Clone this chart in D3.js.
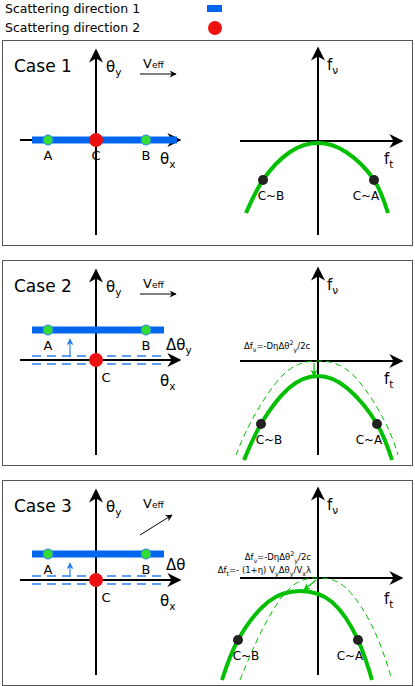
<!DOCTYPE html>
<html>
<head>
<meta charset="utf-8">
<script src="https://cdn.jsdelivr.net/npm/d3@7"></script>
<style>
  body { margin: 0; background: #fff; }
  text { font-family: "DejaVu Sans", sans-serif; fill: #000; }
</style>
</head>
<body>
<svg id="fig" width="415" height="686"></svg>
<script>
// panel data (y values are relative to each panel's top edge)
var cases = ["Case 1", "Case 2", "Case 3"];
var panelTops = [40, 260, 480];
var barY = [100, 70, 74];           // blue scattering band
var pointsAB = [{k: "A", x: 48}, {k: "B", x: 146}];
// parabola points (ft, fv), solid and dashed
var solid = [
  [[246, 173], [263, 140], [290, 112], [318, 103], [346, 112], [374, 140], [388, 173]],
  [[244, 200], [261, 164], [289, 128], [318, 116], [347, 128], [377, 164], [392, 200]],
  [[222, 200], [238, 160], [268, 122], [300, 111], [332, 122], [358, 160], [372, 200]]
];
var dashed = [
  null,
  [[236, 195], [252, 160], [284, 114], [318, 101], [352, 114], [384, 160], [398, 195]],
  [[240, 200], [262, 150], [290, 108], [318, 98], [346, 108], [374, 150], [392, 200]]
];

var svg = d3.select("#fig");
var defs = svg.append("defs");
function head(id, col, w, h) {
  defs.append("marker").attr("id", id).attr("viewBox", "0 0 10 10")
    .attr("refX", 9).attr("refY", 5).attr("markerWidth", w).attr("markerHeight", h)
    .attr("markerUnits", "userSpaceOnUse").attr("orient", "auto")
    .append("path").attr("d", "M0,0 L10,5 L0,10 L3,5 Z").attr("fill", col);
}
head("big", "#000", 26, 14);
head("thin", "#000", 10, 7);
head("blue", "#2a7ff0", 8, 7);
head("grn", "#00c000", 8, 7);

// legend
svg.append("text").attr("x", 5).attr("y", 13).attr("font-size", 12.5).text("Scattering direction 1");
svg.append("rect").attr("x", 207).attr("y", 5).attr("width", 15).attr("height", 7).attr("fill", "#0066ee");
svg.append("text").attr("x", 5).attr("y", 32).attr("font-size", 12.5).text("Scattering direction 2");
svg.append("circle").attr("cx", 215).attr("cy", 28).attr("r", 7).attr("fill", "#ee1111");

var line = d3.line().curve(d3.curveNatural);
function arrow(g, x1, y1, x2, y2, m, col, w) {
  g.append("line").attr("x1", x1).attr("y1", y1).attr("x2", x2).attr("y2", y2)
    .attr("stroke", col).attr("stroke-width", w).attr("marker-end", "url(#" + m + ")");
}
function lab(g, x, y, t, sub, fs) {
  var tx = g.append("text").attr("x", x).attr("y", y).attr("font-size", fs || 14).text(t);
  if (sub) tx.append("tspan").attr("dy", 4).attr("font-size", (fs || 14) * 0.7).text(sub);
  return tx;
}
// text with mixed sub/superscripts: parts = [[text, "n"|"sub"|"sup"], ...]
function rich(g, x, y, parts, fs, anchor) {
  var t = g.append("text").attr("x", x).attr("y", y).attr("font-size", fs).attr("text-anchor", anchor);
  var cur = 0;
  parts.forEach(function(p) {
    var off = p[1] == "sub" ? 3 : (p[1] == "sup" ? -4 : 0);
    t.append("tspan").attr("dy", off - cur).attr("font-size", p[1] == "n" ? fs : fs * 0.75).text(p[0]);
    cur = off;
  });
}
var notes = [
  [],
  [[["Δf", "n"], ["ν", "sub"], ["=-DηΔθ", "n"], ["2", "sup"], ["y", "sub"], ["/2c", "n"]]],
  [[["Δf", "n"], ["ν", "sub"], ["=-DηΔθ", "n"], ["2", "sup"], ["y", "sub"], ["/2c", "n"]],
   [["Δf", "n"], ["t", "sub"], ["=- (1+η) V", "n"], ["y", "sub"], ["Δθ", "n"], ["y", "sub"], ["/V", "n"], ["x", "sub"], ["λ", "n"]]]
];

cases.forEach(function(name, i) {
  var g = svg.append("g").attr("transform", "translate(0," + panelTops[i] + ")");
  g.append("rect").attr("x", 2.5).attr("y", 0.5).attr("width", 410).attr("height", 205)
    .attr("fill", "none").attr("stroke", "#555").attr("stroke-width", 1);
  g.append("text").attr("x", 14).attr("y", 32).attr("font-size", 17).text(name);

  var axY = 100;
  var by = barY[i];
  // left axes
  arrow(g, 96, 195, 96, 10, "big", "#000", 2);
  arrow(g, 20, axY, 180, axY, "big", "#000", 2);
  lab(g, 106, 32, "θ", "y", 15);
  lab(g, 160, i == 0 ? 124 : 126, "θ", "x", 15);
  g.append("text").attr("x", 143).attr("y", 28).attr("font-size", 13).text("V").append("tspan").attr("font-size", 9).text("eff");
  if (i < 2) arrow(g, 140, 34, 176, 34, "thin", "#000", 1);
  else arrow(g, 140, 55, 172, 35, "thin", "#000", 1);

  if (i > 0) {
    [96, 104].forEach(function(yy) {
      g.append("line").attr("x1", 32).attr("x2", 164).attr("y1", yy).attr("y2", yy)
        .attr("stroke", "#2a7ff0").attr("stroke-width", 1.3).attr("stroke-dasharray", "9,6");
    });
    arrow(g, 70, 97, 70, by + 9, "blue", "#2a7ff0", 1.2);
    lab(g, 166, 90, "Δθ", i == 1 ? "y" : "", 15);
  }
  g.append("rect").attr("x", 32).attr("y", by - 3.5).attr("width", i == 0 ? 145 : 132).attr("height", 7).attr("fill", "#0066ee");
  pointsAB.forEach(function(p) {
    g.append("circle").attr("cx", p.x).attr("cy", by).attr("r", 5).attr("fill", "#33dd33").attr("stroke", "#2a7ff0");
    g.append("text").attr("x", p.x).attr("y", by + 20).attr("font-size", 13).attr("text-anchor", "middle").text(p.k);
  });
  g.append("circle").attr("cx", 96).attr("cy", axY).attr("r", 7).attr("fill", "#ee1111");
  g.append("text").attr("x", i == 0 ? 96 : 106).attr("y", i == 0 ? 120 : 122).attr("font-size", 13)
    .attr("text-anchor", "middle").text("C");

  // right axes
  var hy = i == 2 ? 98 : 101;
  arrow(g, 318, 195, 318, 8, "big", "#000", 2);
  arrow(g, 240, hy, 402, hy, "big", "#000", 2);
  lab(g, 327, 30, "f", "ν", 15);
  lab(g, 384, 124, "f", "t", 15);

  if (dashed[i]) g.append("path").attr("d", line(dashed[i])).attr("fill", "none")
    .attr("stroke", "#00c000").attr("stroke-width", 1).attr("stroke-dasharray", "6,4");
  g.append("path").attr("d", line(solid[i])).attr("fill", "none")
    .attr("stroke", "#00c000").attr("stroke-width", 4);
  var s = solid[i];
  [[s[1], "C~B", 8], [s[5], "C~A", -8]].forEach(function(d) {
    g.append("circle").attr("cx", d[0][0]).attr("cy", d[0][1]).attr("r", 5).attr("fill", "#222");
    g.append("text").attr("x", d[0][0] + d[2]).attr("y", d[0][1] + 20).attr("font-size", 12)
      .attr("text-anchor", "middle").text(d[1]);
  });
  if (i == 1) arrow(g, 314, 103, 314, 116, "grn", "#00c000", 1.2);
  if (i == 2) arrow(g, 316, 100, 304, 110, "grn", "#00c000", 1.2);
  notes[i].forEach(function(p, j) {
    rich(g, i == 1 ? 244 : 311, (i == 1 ? 89 : 80) + j * 13, p, 8.5, i == 1 ? "start" : "end");
  });
});
</script>
</body>
</html>
